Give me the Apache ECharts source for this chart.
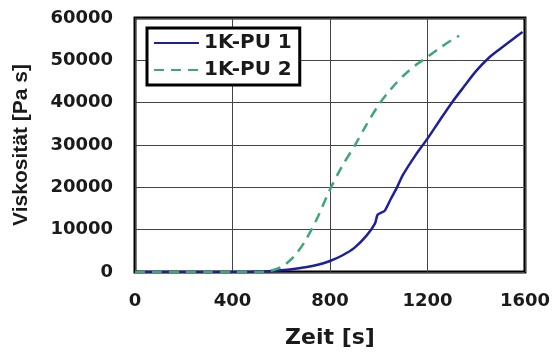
<!DOCTYPE html>
<html>
<head>
<meta charset="utf-8">
<script src="https://cdn.jsdelivr.net/npm/echarts@6/dist/echarts.min.js"></script>
<style>
  html, body { margin: 0; padding: 0; background: #fff; }
  #chart { width: 553px; height: 354px; }
</style>
</head>
<body>
<div id="chart"></div>
<script>
// Viscosity build-up of two one-component PU adhesives over time
const xTicks = [0, 400, 800, 1200, 1600];
const yTicks = [0, 10000, 20000, 30000, 40000, 50000, 60000];

const seriesNames = ['1K-PU 1', '1K-PU 2'];

// [time in s, viscosity in Pa s]
const pu1 = [
  [0, 0], [100, 0], [200, 0], [300, 0], [400, 0], [500, 100], [550, 200],
  [600, 400], [650, 700], [700, 1100], [750, 1700], [800, 2600], [850, 3900],
  [900, 5700], [950, 8600], [985, 11500], [995, 13500], [1010, 14000],
  [1025, 14500], [1050, 17300], [1075, 20000], [1100, 23000], [1150, 27500],
  [1200, 31500], [1250, 35800], [1300, 40000], [1350, 43800], [1400, 47500],
  [1450, 50500], [1500, 52800], [1550, 55000], [1590, 56700]
];

const pu2 = [
  [0, 0], [100, 0], [200, 0], [300, 0], [400, 0], [500, 0], [540, 100],
  [600, 1200], [650, 3500], [700, 7500], [750, 13000], [800, 19500],
  [850, 25000], [900, 29700], [950, 34800], [1000, 39500], [1050, 43200],
  [1100, 46300], [1150, 48800], [1200, 50800], [1250, 52900], [1300, 54800],
  [1330, 55800]
];

const labelFont = 'DejaVu Sans';
const textColor = '#1a1a1a';
const plainNumber = (v) => String(v);

const chart = echarts.init(document.getElementById('chart'), null, { renderer: 'canvas' });

chart.setOption({
  animation: false,
  backgroundColor: '#ffffff',
  grid: {
    left: 135, right: 28, top: 18, bottom: 81,
    show: true, borderColor: '#000', borderWidth: 3, backgroundColor: 'transparent'
  },
  legend: {
    orient: 'vertical',
    left: 147, top: 28,
    backgroundColor: '#fff',
    borderColor: '#000', borderWidth: 3, borderRadius: 0,
    padding: [5, 8, 5, 6],
    itemWidth: 45, itemHeight: 14, itemGap: 7,
    data: seriesNames,
    itemStyle: { opacity: 0 },
    textStyle: { fontFamily: labelFont, fontWeight: 'bold', fontSize: 20, color: textColor }
  },
  xAxis: {
    type: 'value',
    min: xTicks[0], max: xTicks[xTicks.length - 1], interval: 400,
    name: 'Zeit [s]', nameLocation: 'middle', nameGap: 55,
    nameTextStyle: { fontFamily: labelFont, fontWeight: 'bold', fontSize: 22, color: textColor },
    axisLine: { show: false },
    axisTick: { show: false },
    axisLabel: { margin: 20, formatter: plainNumber, fontFamily: labelFont, fontWeight: 'bold', fontSize: 18, color: textColor },
    splitLine: { show: true, lineStyle: { color: '#444', width: 1 } }
  },
  yAxis: {
    type: 'value',
    min: yTicks[0], max: yTicks[yTicks.length - 1], interval: 10000,
    name: 'Viskosität [Pa s]', nameLocation: 'middle', nameGap: 103,
    nameTextStyle: { fontFamily: 'Liberation Sans', fontWeight: 'bold', fontSize: 21, color: textColor },
    axisLine: { show: false },
    axisTick: { show: false },
    axisLabel: { margin: 22, formatter: plainNumber, fontFamily: labelFont, fontWeight: 'bold', fontSize: 18, color: textColor },
    splitLine: { show: true, lineStyle: { color: '#444', width: 1 } }
  },
  series: [
    {
      name: seriesNames[0], type: 'line', data: pu1, smooth: 0.3,
      showSymbol: false, symbol: 'none', z: 2,
      lineStyle: { color: '#1f1f99', width: 2.5 },
      itemStyle: { color: '#1f1f99' }
    },
    {
      name: seriesNames[1], type: 'line', data: pu2, smooth: 0.3,
      showSymbol: false, symbol: 'none', z: 3,
      lineStyle: { color: '#3da873', width: 2.5, type: [10, 7] },
      itemStyle: { color: '#3da873' }
    }
  ]
});
</script>
</body>
</html>
